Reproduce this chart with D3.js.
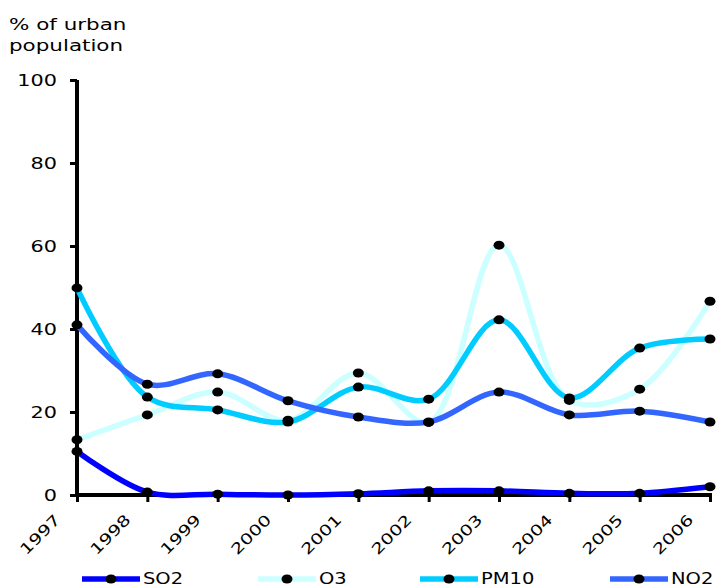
<!DOCTYPE html>
<html>
<head>
<meta charset="utf-8">
<script src="https://cdn.jsdelivr.net/npm/d3@7"></script>
<style>
  html, body { margin: 0; padding: 0; background: #fff; }
  svg { display: block; }
  text { font-family: "DejaVu Sans", Verdana, sans-serif; fill: #000; }
</style>
</head>
<body>
<svg id="chart" width="721" height="588"></svg>
<script>
// Share of urban population exposed, by pollutant and year
const years = ["1997", "1998", "1999", "2000", "2001", "2002", "2003", "2004", "2005", "2006"];
const so2  = [10.5, 0.7, 0.2, 0.0, 0.3, 1.0, 1.0, 0.4, 0.4, 2.0];
const o3   = [13.3, 19.3, 24.8, 18.0, 29.4, 17.5, 60.2, 22.8, 25.5, 46.7];
const pm10 = [49.9, 23.6, 20.5, 17.6, 26.0, 23.1, 42.2, 23.4, 35.4, 37.6];
const no2  = [41.0, 26.7, 29.2, 22.7, 18.8, 17.6, 24.8, 19.3, 20.2, 17.6];
const seriesNames = ["SO2", "O3", "PM10", "NO2"];
const seriesColors = ["#0000ff", "#ccffff", "#00ccff", "#3366ff"];
const yTicks = [0, 20, 40, 60, 80, 100];

const series = [so2, o3, pm10, no2].map((values, i) => ({
  name: seriesNames[i], color: seriesColors[i], values
}));

const WIDE = 1.3; // horizontal stretch of the lettering

const svg = d3.select("#chart");

const x = d3.scalePoint().domain(years).range([77, 710]);
const y = d3.scaleLinear().domain([0, 100]).range([495, 80]);

// axis title
const title = svg.append("text").attr("font-size", 16.5)
  .attr("transform", `translate(9,0) scale(${WIDE},1)`);
title.append("tspan").attr("x", 0).attr("y", 30).text("% of urban");
title.append("tspan").attr("x", 0).attr("y", 51).text("population");

// y axis
const yAxis = svg.append("g").attr("transform", "translate(77,0)")
  .call(d3.axisLeft(y).tickValues(yTicks).tickSize(7).tickPadding(11));
yAxis.select(".domain").attr("stroke", "#000").attr("stroke-width", 4)
  .attr("d", `M0,${y(100)}V${y(0) + 2}`);
yAxis.selectAll(".tick line").attr("stroke", "#000").attr("stroke-width", 3);
yAxis.selectAll(".tick text").attr("font-size", 16)
  .style("font-family", "DejaVu Sans, Verdana, sans-serif")
  .attr("x", 0)
  .attr("transform", `translate(-20,0) scale(${WIDE},1)`);

// x axis
const xAxis = svg.append("g").attr("transform", `translate(0,${y(0)})`)
  .call(d3.axisBottom(x).tickSize(7).tickSizeOuter(0));
xAxis.select(".domain").attr("stroke", "#000").attr("stroke-width", 4)
  .attr("d", `M75,0H712`);
xAxis.selectAll(".tick line").attr("stroke", "#000").attr("stroke-width", 3);
xAxis.selectAll(".tick text")
  .attr("font-size", 15)
  .style("font-family", "DejaVu Sans, Verdana, sans-serif")
  .attr("text-anchor", "end")
  .attr("x", 0).attr("y", 0).attr("dy", "0.35em")
  .attr("transform", `translate(-20,22) rotate(-45) scale(${WIDE},1)`);

// smoothed lines
const line = d3.line()
  .x((d, i) => x(years[i]))
  .y(d => y(d))
  .curve(d3.curveCatmullRom.alpha(0.5));

const plot = svg.append("g");
series.forEach(s => {
  plot.append("path")
    .attr("d", line(s.values))
    .attr("fill", "none")
    .attr("stroke", s.color)
    .attr("stroke-width", 5.5)
    .attr("stroke-linejoin", "round");
});
series.forEach(s => {
  plot.selectAll(null).data(s.values).enter().append("ellipse")
    .attr("cx", (d, i) => x(years[i]))
    .attr("cy", d => y(d))
    .attr("rx", 5.5).attr("ry", 4.5)
    .attr("fill", "#000");
});

// legend
const legendX = [82, 258, 420, 610];
const legend = svg.append("g");
series.forEach((s, i) => {
  const g = legend.append("g").attr("transform", `translate(${legendX[i]},579)`);
  g.append("line").attr("x1", 0).attr("x2", 58).attr("y1", 0).attr("y2", 0)
    .attr("stroke", s.color).attr("stroke-width", 5.5);
  g.append("ellipse").attr("cx", 29).attr("cy", 0).attr("rx", 5.5).attr("ry", 4.5).attr("fill", "#000");
  g.append("text").attr("font-size", 15)
    .attr("transform", `translate(61,5) scale(${WIDE},1)`)
    .text(s.name);
});
</script>
</body>
</html>
